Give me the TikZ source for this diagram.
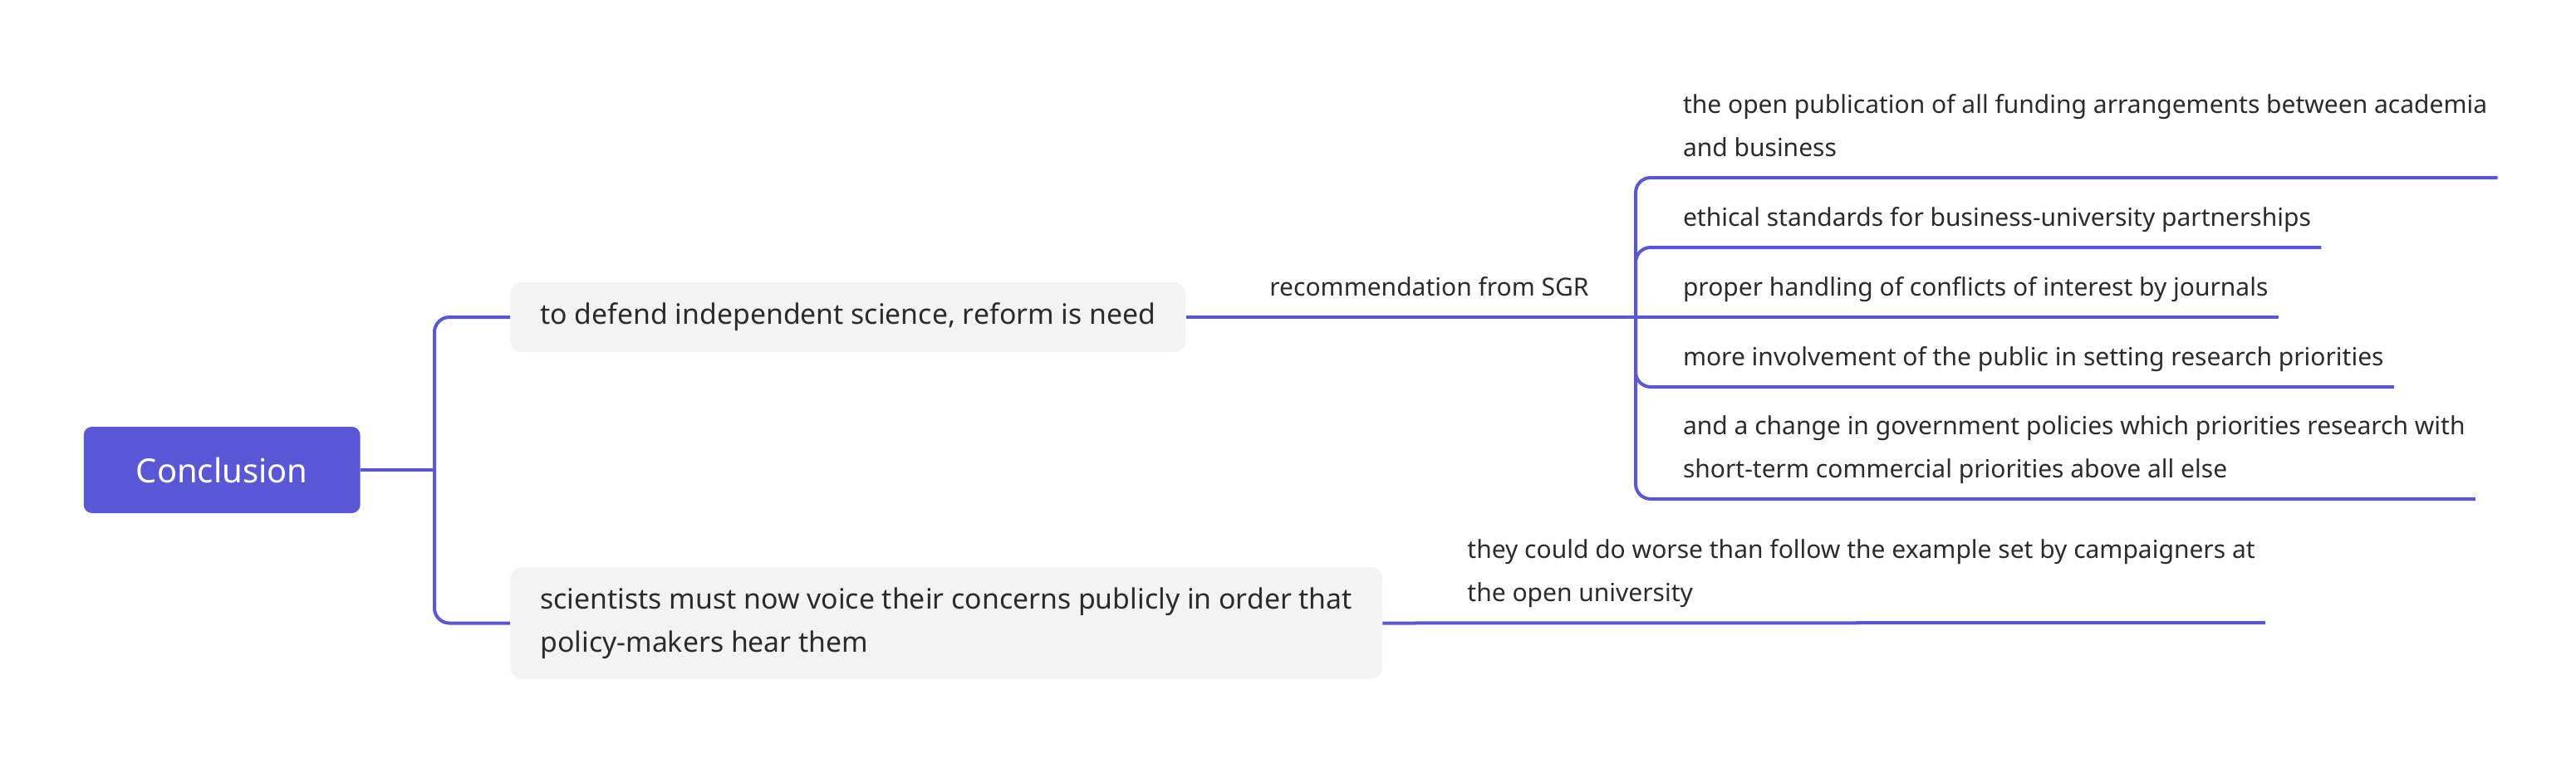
\documentclass[tikz,border=0pt]{standalone}
\usepackage{fontspec}
\setmainfont{Noto Sans}
\usetikzlibrary{positioning}
\definecolor{mapblue}{HTML}{5A57D6}
\definecolor{topicgray}{HTML}{F3F3F3}
\definecolor{textgray}{HTML}{2B2B2B}
\tikzstyle{root} = [rectangle, rounded corners=5pt, minimum width=166.4pt, minimum height=52pt, fill=mapblue, text=white, font=\fontsize{20}{24}\selectfont]
\tikzstyle{topic} = [rectangle, rounded corners=7pt, fill=topicgray, text=textgray, inner xsep=18pt, align=left, font=\fontsize{16.9}{26}\selectfont]
\tikzstyle{leaf} = [inner xsep=6pt, inner ysep=9pt, text depth=3.5pt, align=left, text=textgray, font=\fontsize{15}{26}\selectfont]
\tikzstyle{link} = [line width=2pt, draw=mapblue, rounded corners=9pt]

\begin{document}
\begin{tikzpicture}[x=1pt, y=-1pt]
	\useasboundingbox (0,0) rectangle (1550.5,459);
	\node[root] (root) at (133.6,283) {Conclusion};
	\node[topic, anchor=west, minimum height=42pt] (defend) at (307,191) {to defend independent science, reform is need};
	\node[topic, anchor=west, minimum height=67.5pt] (voice) at (307,375.25) {scientists must now voice their concerns publicly in order that\\policy-makers hear them};
	\coordinate (fork) at (261.5,283);
	\coordinate (sgr) at (984.5,191);
	\node[leaf, anchor=south west] (rec) at (758,191) {recommendation from SGR};
	\node[leaf, anchor=south west] (publish) at (1006.8,107) {the open publication of all funding arrangements between academia\\and business};
	\node[leaf, anchor=south west] (ethics) at (1006.8,149) {ethical standards for business-university partnerships};
	\node[leaf, anchor=south west] (conflicts) at (1006.8,191) {proper handling of conflicts of interest by journals};
	\node[leaf, anchor=south west] (public) at (1006.8,233) {more involvement of the public in setting research priorities};
	\node[leaf, anchor=south west] (policy) at (1006.8,300.5) {and a change in government policies which priorities research with\\short-term commercial priorities above all else};
	\node[leaf, anchor=south west] (campaign) at (877,375) {they could do worse than follow the example set by campaigners at\\the open university};
	% root to topics
	\draw[link] (root.east) -- (fork);
	\draw[link] (defend.west) -| (fork) |- (voice.west);
	% recommendations
	\draw[link] (defend.east) -- (sgr);
	\draw[link] (sgr) |- (publish.south west) -- (publish.south east);
	\draw[link] (sgr) |- (ethics.south west) -- (ethics.south east);
	\draw[link] (sgr) -- (conflicts.south east);
	\draw[link] (sgr) |- (public.south west) -- (public.south east);
	\draw[link] (sgr) |- (policy.south west) -- (policy.south east);
	% second topic
	\draw[link] (voice.east) -- (campaign.south east);
\end{tikzpicture}
\end{document}
